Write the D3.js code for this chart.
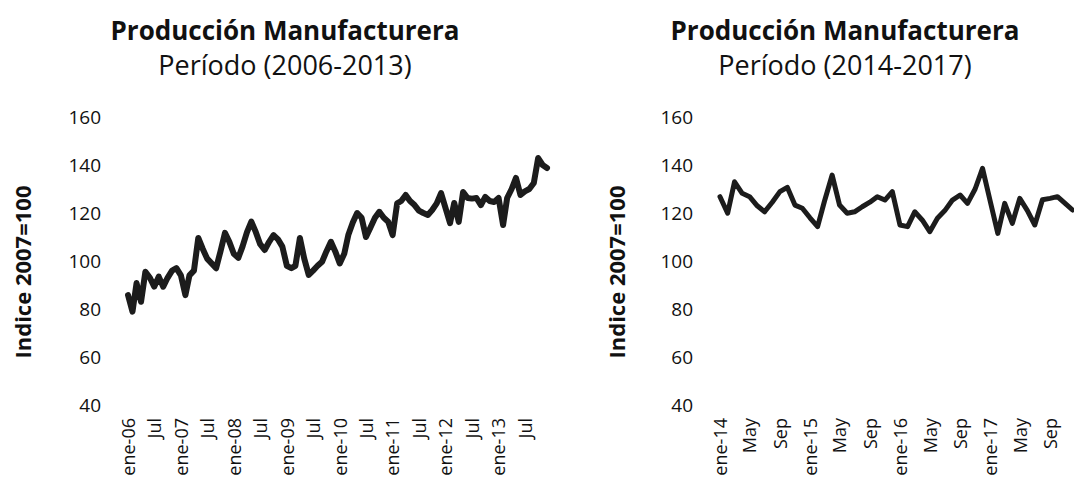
<!DOCTYPE html>
<html>
<head>
<meta charset="utf-8">
<script src="https://cdn.jsdelivr.net/npm/d3@7"></script>
<style>
  body { margin: 0; background: #fff; }
  text { font-family: "Open Sans", sans-serif; fill: #111; }
</style>
</head>
<body>
<svg id="chart" width="1074" height="482"></svg>
<script>
// Producción manufacturera, índice 2007=100 (monthly)
const startLeft = "2006-01";
const valuesLeft = [
  85.8, 78.9, 90.8, 83, 95.5, 93, 89.3, 93.5, 89.3, 93, 96, 97,
  94, 85.8, 94, 96, 109.6, 105, 101, 99, 97, 104, 111.7, 108,
  103, 101.3, 106, 112, 116.4, 112, 107, 104.6, 108, 110.8, 109, 106,
  98, 97, 98, 109.6, 101, 94.2, 96, 98, 99.7, 104, 108, 104,
  99, 103, 110.8, 116, 120, 118, 110, 114, 118, 120.5, 118, 116.4,
  110.8, 124, 125, 127.5, 125, 123.3, 121, 120, 119.2, 121.25, 124, 128.3,
  122, 115.8, 124.2, 116.3, 128.75, 126.25, 126, 126.25, 123.3, 126.7, 125, 124.6,
  126.25, 115, 126.25, 130, 134.6, 127.5, 129, 130, 132.5, 142.9, 140, 138.75
];
const ticksLeft = ["2006-01","2006-07","2007-01","2007-07","2008-01","2008-07","2009-01","2009-07",
  "2010-01","2010-07","2011-01","2011-07","2012-01","2012-07","2013-01","2013-07"];
const tickLabelsLeft = ["ene-06","Jul","ene-07","Jul","ene-08","Jul","ene-09","Jul",
  "ene-10","Jul","ene-11","Jul","ene-12","Jul","ene-13","Jul"];

const startRight = "2014-01";
const valuesRight = [
  126.8, 119.9, 133, 128.2, 126.8, 123, 120.5, 124.5, 128.9, 130.7, 123.3, 122,
  118, 114.3, 125, 135.8, 123.3, 119.9, 120.5, 122.6, 124.5, 126.8, 125.4, 128.9,
  115, 114.3, 120.5, 117, 112.2, 117.8, 121, 125.4, 127.5, 124, 130, 138.6,
  125, 111.5, 124, 115.7, 126.1, 121, 115, 125.5, 126.1, 126.8, 124, 121.25
];
const ticksRight = ["2014-01","2014-05","2014-09","2015-01","2015-05","2015-09",
  "2016-01","2016-05","2016-09","2017-01","2017-05","2017-09"];
const tickLabelsRight = ["ene-14","May","Sep","ene-15","May","Sep",
  "ene-16","May","Sep","ene-17","May","Sep"];

const yTicks = [40, 60, 80, 100, 120, 140, 160];

const parseMonth = d3.timeParse("%Y-%m");
const svg = d3.select("#chart");

function drawPanel(opt) {
  const start = parseMonth(opt.start);
  const data = opt.values.map((v, i) => ({ date: d3.timeMonth.offset(start, i), value: v }));

  const x = d3.scaleTime()
    .domain([start, data[data.length - 1].date])
    .range([opt.x0, opt.x1]);
  const y = d3.scaleLinear()
    .domain([40, 160])
    .range([405, 117]);

  const g = svg.append("g");

  g.append("text")
    .attr("x", opt.cx).attr("y", 40)
    .attr("text-anchor", "middle")
    .style("font-size", "26px").style("font-weight", "bold")
    .text("Producción Manufacturera");
  g.append("text")
    .attr("x", opt.cx).attr("y", 75)
    .attr("text-anchor", "middle")
    .style("font-size", "27px")
    .text(opt.subtitle);

  g.append("text")
    .attr("transform", `translate(${opt.titleX},272) rotate(-90)`)
    .attr("text-anchor", "middle")
    .attr("dy", "0.35em")
    .style("font-size", "22px").style("font-weight", "bold")
    .text("Indice 2007=100");

  const yAxis = g.append("g")
    .attr("transform", `translate(${opt.yAxisX},0)`)
    .call(d3.axisLeft(y).tickValues(yTicks).tickSize(0).tickPadding(3));
  yAxis.select(".domain").remove();
  yAxis.selectAll("text")
    .style("font-size", "19px")
    .style("font-family", "'Open Sans', sans-serif")
    .attr("fill", "#111");

  const tickDates = opt.ticks.map(parseMonth);
  const xAxis = g.append("g")
    .attr("transform", "translate(0,412)")
    .call(d3.axisBottom(x).tickValues(tickDates).tickSize(0)
      .tickFormat((d, i) => opt.tickLabels[i]));
  xAxis.select(".domain").remove();
  xAxis.selectAll("text")
    .attr("transform", "rotate(-90)")
    .attr("x", -6).attr("y", 0).attr("dy", "0.35em")
    .style("text-anchor", "end")
    .style("font-size", "18px")
    .style("font-family", "'Open Sans', sans-serif")
    .attr("fill", "#111");

  g.append("path")
    .datum(data)
    .attr("fill", "none")
    .attr("stroke", "#1c1c1c")
    .attr("stroke-width", opt.lineWidth)
    .attr("stroke-linejoin", "round")
    .attr("stroke-linecap", "round")
    .attr("d", d3.line().x(d => x(d.date)).y(d => y(d.value)));
}

drawPanel({
  start: startLeft, values: valuesLeft, ticks: ticksLeft, tickLabels: tickLabelsLeft,
  x0: 128, x1: 547, cx: 285, subtitle: "Período (2006-2013)",
  titleX: 23, yAxisX: 104, lineWidth: 6
});
drawPanel({
  start: startRight, values: valuesRight, ticks: ticksRight, tickLabels: tickLabelsRight,
  x0: 720, x1: 1072.5, cx: 845, subtitle: "Período (2014-2017)",
  titleX: 617, yAxisX: 696, lineWidth: 5
});
</script>
</body>
</html>
